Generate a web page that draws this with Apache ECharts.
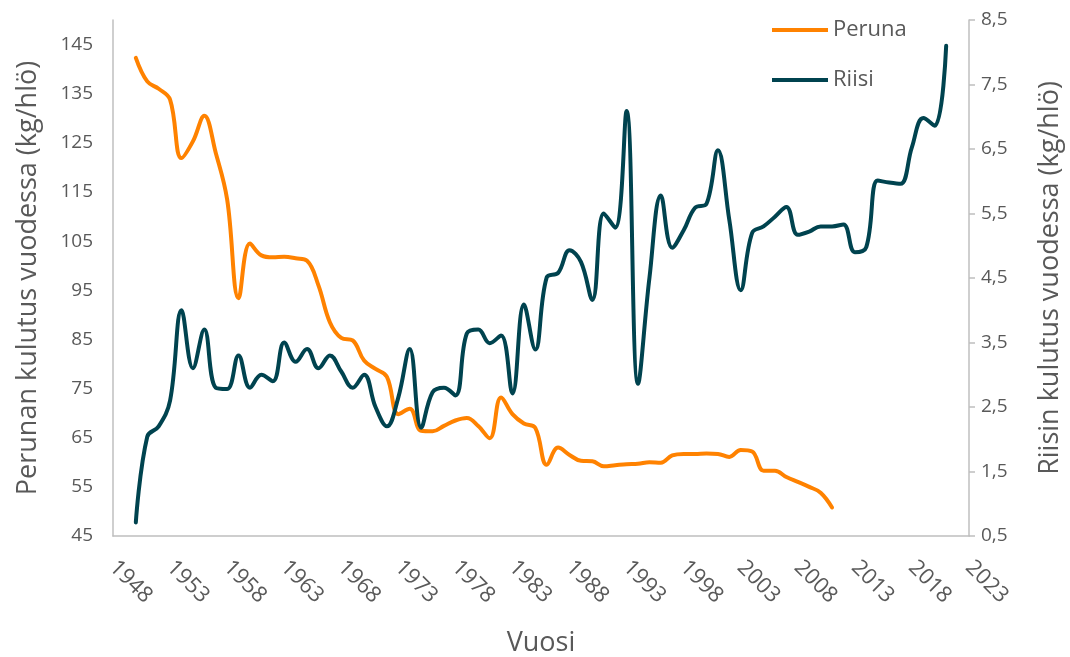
<!DOCTYPE html>
<html>
<head>
<meta charset="utf-8">
<title>Peruna ja riisi</title>
<script src="https://cdn.jsdelivr.net/npm/echarts@6/dist/echarts.min.js"></script>
<style>
    html, body { margin: 0; padding: 0; background: #fff; }
    #chart { width: 1070px; height: 657px; }
</style>
</head>
<body>
<div id="chart"></div>
<script>
// vuodet (x-akseli)
var years = [1950, 1951, 1952, 1953, 1954, 1955, 1956, 1957, 1958, 1959,
    1960, 1961, 1962, 1963, 1964, 1965, 1966, 1967, 1968, 1969,
    1970, 1971, 1972, 1973, 1974, 1975, 1976, 1977, 1978, 1979,
    1980, 1981, 1982, 1983, 1984, 1985, 1986, 1987, 1988, 1989,
    1990, 1991, 1992, 1993, 1994, 1995, 1996, 1997, 1998, 1999,
    2000, 2001, 2002, 2003, 2004, 2005, 2006, 2007, 2008, 2009,
    2010, 2011, 2012, 2013, 2014, 2015, 2016, 2017, 2018, 2019,
    2020, 2021]

// perunan kulutus kg/hlö, 1950-2011
var peruna = [142.3, 137.5, 136, 133.8, 121.9, 125.3, 130.5, 123, 113.5, 93.4,
    104.5, 102.1, 101.7, 101.8, 101.5, 101, 96, 88.5, 85.3, 84.8,
    80.7, 79, 77.4, 69.8, 70.9, 66.4, 66.3, 67.4, 68.5, 69,
    67.4, 64.9, 73.2, 69.8, 67.9, 67, 59.5, 63, 61.5, 60.3,
    60.2, 59.2, 59.4, 59.6, 59.7, 60, 59.9, 61.4, 61.7, 61.7,
    61.8, 61.7, 61.1, 62.5, 62.2, 58.3, 58.3, 57, 56, 55,
    53.8, 50.8]

// riisin kulutus kg/hlö, 1950-2021
var riisi = [0.71, 2.04, 2.2, 2.6, 4.0, 3.1, 3.7, 2.8, 2.78, 3.3,
    2.8, 3.0, 2.9, 3.5, 3.2, 3.4, 3.1, 3.3, 3.05, 2.8,
    3.0, 2.5, 2.2, 2.65, 3.4, 2.18, 2.73, 2.8, 2.68, 3.64,
    3.7, 3.49, 3.61, 2.71, 4.09, 3.39, 4.51, 4.58, 4.93, 4.75,
    4.16, 5.5, 5.28, 7.09, 2.86, 4.5, 5.78, 4.97, 5.24, 5.59,
    5.65, 6.48, 5.4, 4.31, 5.2, 5.3, 5.45, 5.6, 5.17, 5.22,
    5.3, 5.3, 5.33, 4.9, 4.98, 6.01, 5.98, 5.96, 6.53, 6.98,
    6.86, 8.1]

// akselien jaot
var xTicks = [1948, 1953, 1958, 1963, 1968, 1973, 1978, 1983, 1988, 1993, 1998, 2003, 2008, 2013, 2018, 2023]
var leftTicks = [45, 55, 65, 75, 85, 95, 105, 115, 125, 135, 145]
var rightTicks = [0.5, 1.5, 2.5, 3.5, 4.5, 5.5, 6.5, 7.5, 8.5]

var grey = '#595959'
var axisGrey = '#bfbfbf'
var font = '"Open Sans", "Noto Sans", sans-serif'

var chart = echarts.init(document.getElementById('chart'))
chart.setOption({
    animation: false,
    textStyle: { fontFamily: font },
    grid: { left: 113, right: 101, top: 20, bottom: 121, outerBoundsMode: 'none', containLabel: false },
    legend: {
        orient: 'vertical',
        left: 772,
        top: 19,
        padding: 0,
        itemWidth: 56,
        itemHeight: 4,
        itemGap: 28,
        icon: 'rect',
        textStyle: { color: grey, fontSize: 22, fontFamily: font },
        data: ['Peruna', 'Riisi']
    },
    xAxis: {
        type: 'value',
        min: 1948,
        max: 2023,
        name: 'Vuosi',
        nameLocation: 'middle',
        nameGap: 94,
        nameTextStyle: { color: grey, fontSize: 27, fontFamily: font },
        axisLine: { lineStyle: { color: axisGrey, width: 1.5 } },
        axisTick: { show: false },
        splitLine: { show: false },
        axisLabel: {
            customValues: xTicks,
            rotate: -45,
            margin: 28,
            color: grey,
            fontSize: 22,
            formatter: function (v) { return String(v) }
        }
    },
    yAxis: [{
        type: 'value',
        min: 45,
        max: 150,
        position: 'left',
        name: 'Perunan kulutus vuodessa (kg/hlö)',
        nameLocation: 'middle',
        nameGap: 71,
        nameTextStyle: { color: grey, fontSize: 27, fontFamily: font },
        axisLine: { show: true, lineStyle: { color: axisGrey, width: 1.5 } },
        axisTick: { show: false },
        splitLine: { show: false },
        axisLabel: { customValues: leftTicks, color: grey, fontSize: 19, margin: 20 }
    }, {
        type: 'value',
        min: 0.5,
        max: 8.5,
        position: 'right',
        name: 'Riisin kulutus vuodessa (kg/hlö)',
        nameLocation: 'middle',
        nameGap: 68,
        nameRotate: 90,
        nameTextStyle: { color: grey, fontSize: 27, fontFamily: font },
        axisLine: { show: true, lineStyle: { color: axisGrey, width: 1.5 } },
        axisTick: { show: true, customValues: rightTicks, length: 6, lineStyle: { color: axisGrey, width: 1.5 } },
        splitLine: { show: false },
        axisLabel: {
            customValues: rightTicks,
            color: grey,
            fontSize: 19,
            margin: 12,
            formatter: function (v) { return v.toFixed(1).replace('.', ',') }
        }
    }],
    series: [{
        name: 'Peruna',
        type: 'line',
        yAxisIndex: 0,
        smooth: 0.4,
        showSymbol: false,
        color: '#ff8200',
        lineStyle: { width: 4, cap: 'round', join: 'round' },
        data: peruna.map(function (v, i) { return [years[i], v] })
    }, {
        name: 'Riisi',
        type: 'line',
        yAxisIndex: 1,
        smooth: 0.4,
        showSymbol: false,
        color: '#00434f',
        lineStyle: { width: 4, cap: 'round', join: 'round' },
        data: riisi.map(function (v, i) { return [years[i], v] })
    }]
})
</script>
</body>
</html>
